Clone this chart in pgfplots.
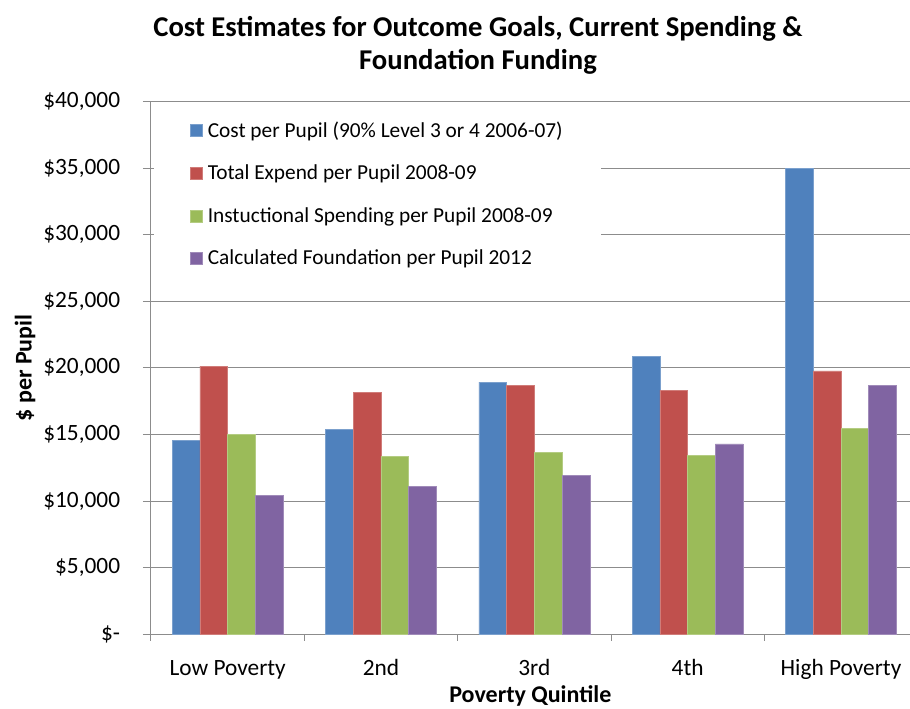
\documentclass[border=0pt]{standalone}
\usepackage{fontspec}
\setmainfont{Carlito}
\usepackage{pgfplots}
\pgfplotsset{compat=1.18}
\definecolor{xlblue}{HTML}{4F81BD}
\definecolor{xlred}{HTML}{C0504D}
\definecolor{xlgreen}{HTML}{9BBB59}
\definecolor{xlpurple}{HTML}{8064A2}
\definecolor{gridgray}{HTML}{8C8C8C}

\begin{document}
\begin{tikzpicture}
\begin{axis}[
    at={(0,0)}, anchor=south west,
    scale only axis, width=575pt, height=399.6pt,
    xmin=-0.5, xmax=4.5, ymin=0, ymax=40000,
    enlargelimits=false,
    ybar=0pt, bar width=20.8pt,
    axis lines*=left,
    axis line style={draw=gridgray, line width=0.75pt},
    tick align=outside,
    major tick length=6pt, minor tick length=5pt,
    tick style={draw=gridgray, line width=0.75pt},
    major x tick style={draw=none},
    xtick={0,1,2,3,4},
    minor xtick={-0.5,0.5,1.5,2.5,3.5,4.5},
    xticklabels={Low Poverty, 2nd, 3rd, 4th, High Poverty},
    ytick={0,5000,10000,15000,20000,25000,30000,35000,40000},
    yticklabels={{\$-}, {\$5,000}, {\$10,000}, {\$15,000}, {\$20,000}, {\$25,000}, {\$30,000}, {\$35,000}, {\$40,000}},
    scaled y ticks=false,
    ymajorgrids,
    grid style={draw=gridgray, line width=0.75pt},
    tick label style={font=\fontsize{17.5}{21}\selectfont, text=black},
    xticklabel style={anchor=base, yshift=-25pt},
    yticklabel style={anchor=east, inner sep=0pt, xshift=-17pt},
    xlabel={\textbf{Poverty Quintile}},
    ylabel={\textbf{\$ per Pupil}},
    label style={font=\fontsize{18}{21}\selectfont},
    xlabel style={at={(rel axis cs:0.5,0)}, anchor=center, yshift=-46pt, xshift=-3pt},
    ylabel style={at={(rel axis cs:0,0.5)}, anchor=center, yshift=94.5pt},
    legend cell align=left,
    legend style={at={(rel axis cs:0,1)}, anchor=north west, xshift=2.25pt, yshift=-7pt,
        draw=none, fill=white, font=\fontsize{16}{19}\selectfont,
        inner xsep=27pt, inner ysep=6pt, row sep=15.3pt,
        /tikz/every odd column/.style={column sep=1.75pt}},
    legend image code/.code={\path[#1] (0pt,-4.5pt) rectangle (9pt,4.5pt);},
]
\addplot[fill=xlblue, draw=xlblue!75!white, line width=0.4pt]
    coordinates {(0,14570) (1,15375) (2,18925) (3,20875) (4,34950)};
\addplot[fill=xlred, draw=xlred!75!white, line width=0.4pt]
    coordinates {(0,20130) (1,18170) (2,18700) (3,18325) (4,19775)};
\addplot[fill=xlgreen, draw=xlgreen!75!white, line width=0.4pt]
    coordinates {(0,15000) (1,13350) (2,13650) (3,13425) (4,15475)};
\addplot[fill=xlpurple, draw=xlpurple!75!white, line width=0.4pt]
    coordinates {(0,10430) (1,11100) (2,11950) (3,14300) (4,18700)};
\legend{Cost per Pupil (90\% Level 3 or 4 2006-07),
    Total Expend per Pupil 2008-09,
    Instuctional Spending per Pupil 2008-09,
    Calculated Foundation per Pupil 2012}
\end{axis}
\node[font=\bfseries\fontsize{21.5}{24.75}\selectfont, align=center]
    at (245.25pt,442pt) {Cost Estimates for Outcome Goals, Current Spending \&\\Foundation Funding};
\pgfresetboundingbox
\path[use as bounding box] (-113.25pt,-55.3pt) rectangle (569.25pt,475.7pt);
\end{tikzpicture}
\end{document}
